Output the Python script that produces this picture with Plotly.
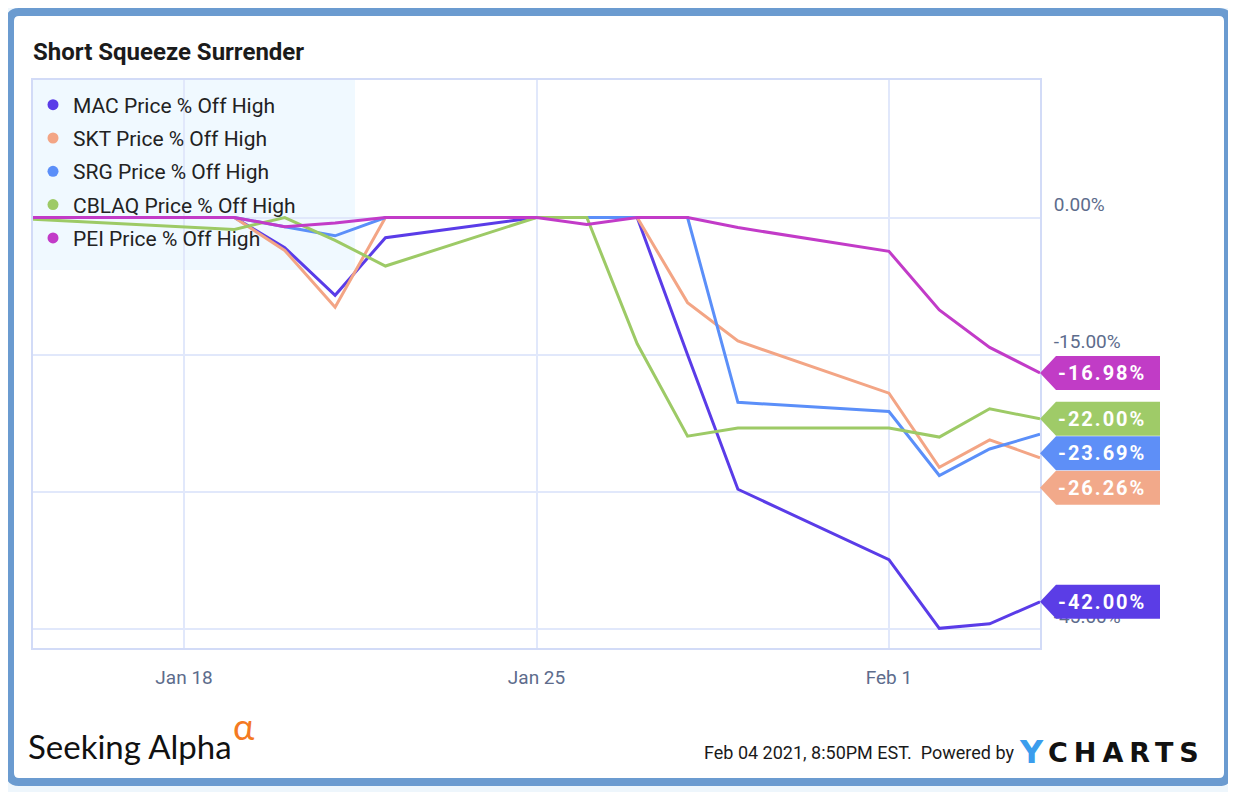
import plotly.graph_objects as go

# ---------------- data ----------------
dates = ["2021-01-15", "2021-01-19", "2021-01-20", "2021-01-21", "2021-01-22",
         "2021-01-25", "2021-01-26", "2021-01-27", "2021-01-28", "2021-01-29",
         "2021-02-01", "2021-02-02", "2021-02-03", "2021-02-04"]

series_names = ["MAC", "SKT", "SRG", "CBLAQ", "PEI"]
mac = [0, 0, -3.3, -8.5, -2.2, 0, 0, 0, -15.0, -29.7, -37.4, -44.9, -44.4, -42.00]
skt = [0, 0, -3.6, -9.8, 0, 0, 0, 0, -9.3, -13.5, -19.2, -27.3, -24.3, -26.26]
srg = [0, 0, -1.0, -2.0, 0, 0, 0, 0, 0, -20.2, -21.2, -28.2, -25.3, -23.69]
cblaq = [-0.2, -1.3, 0, -2.5, -5.3, 0, 0, -13.8, -23.9, -23.0, -23.0, -24.0, -20.9, -22.00]
pei = [0, 0, -1.0, -0.6, 0, 0, -0.75, 0, 0, -1.1, -3.7, -10.1, -14.2, -16.98]
series_values = [mac, skt, srg, cblaq, pei]

y_tick_values = [0, -15, -30, -45]
x_tick_values = ["2021-01-18", "2021-01-25", "2021-02-01"]
x_tick_labels = ["Jan 18", "Jan 25", "Feb 1"]

# ---------------- styles ----------------
colors = ["#5a3ce8", "#f3a585", "#5b8ff9", "#9dca66", "#c23bc8"]
flag_colors = ["#5b3de6", "#f2a98a", "#5e8ff7", "#9fcb68", "#c13cc6"]
flag_shift_px = [0, -30, -19, 0, 0]   # vertical collision offsets of end labels
FONT = "Roboto"
W, H = 1228, 784

fig = go.Figure()

for name, vals, col in zip(series_names, series_values, colors):
    fig.add_trace(go.Scatter(x=dates, y=vals, mode="lines", name=name,
                             line=dict(color=col, width=3), showlegend=False,
                             hoverinfo="skip"))
for i, (name, col) in enumerate(zip(series_names, colors)):
    fig.add_trace(go.Scatter(x=[None], y=[None], mode="markers",
                             name=f"{name} Price % Off High", legendgroup=f"g{i}",
                             marker=dict(color=col, size=11)))

shapes = []
# outer frame
L, R, T, B, r = -23, 1195, 68, -702, 9
frame_path = (f"M {L+r},{T} L {R-r},{T} Q {R},{T} {R},{T-r} L {R},{B+r} Q {R},{B} {R-r},{B} "
              f"L {L+r},{B} Q {L},{B} {L},{B+r} L {L},{T-r} Q {L},{T} {L+r},{T} Z")
shapes.append(dict(type="path", xref="paper", yref="paper", xsizemode="pixel", ysizemode="pixel",
                   xanchor=0, yanchor=1, path=frame_path, fillcolor="white",
                   line=dict(color="#6b9bd0", width=8), layer="below"))
# legend background
shapes.append(dict(type="rect", xref="paper", yref="paper", xsizemode="pixel", ysizemode="pixel",
                   xanchor=0, yanchor=1, x0=0, x1=322, y0=0, y1=-190,
                   fillcolor="#f0f9ff", line=dict(width=0), layer="below"))

annotations = []
for name, vals, fc, off in zip(series_names, series_values, flag_colors, flag_shift_px):
    last = vals[-1]
    h = 17
    p = (f"M 0,{off} L 16,{off+h} L 120,{off+h} L 120,{off-h} L 16,{off-h} Z")
    shapes.append(dict(type="path", xref="paper", yref="y", xsizemode="pixel", ysizemode="pixel",
                       xanchor=1, yanchor=last, path=p, fillcolor=fc,
                       line=dict(width=0), layer="above"))
    annotations.append(dict(xref="paper", yref="y", x=1, y=last, xanchor="center", yanchor="middle",
                            xshift=62, yshift=off, showarrow=False,
                            text=f"<b><span style='letter-spacing:2px'>{last:.2f}%</span></b>",
                            font=dict(family=FONT, size=20, color="white")))

# footer
annotations.append(dict(xref="paper", yref="paper", x=0, y=0, xanchor="left", yanchor="middle",
                        xshift=-7, yshift=-98, showarrow=False, text="Seeking Alpha",
                        font=dict(family="Lato", size=33, color="#111111")))
annotations.append(dict(xref="paper", yref="paper", x=0, y=0, xanchor="left", yanchor="middle",
                        xshift=198, yshift=-78, showarrow=False, text="α",
                        font=dict(family="Lato", size=36, color="#f47a22")))
annotations.append(dict(xref="paper", yref="paper", x=1, y=0, xanchor="right", yanchor="middle",
                        xshift=-24, yshift=-104, showarrow=False,
                        text="Feb 04 2021, 8:50PM EST.  Powered by",
                        font=dict(family=FONT, size=18, color="#1a1a1a")))
annotations.append(dict(xref="paper", yref="paper", x=1, y=0, xanchor="left", yanchor="middle",
                        xshift=-23, yshift=-104, showarrow=False, text="<b>Y</b>",
                        font=dict(family="DejaVu Sans", size=32, color="#3b9ded")))
annotations.append(dict(xref="paper", yref="paper", x=1, y=0, xanchor="left", yanchor="middle",
                        xshift=6, yshift=-104, showarrow=False,
                        text="<b><span style='letter-spacing:6px'>CHARTS</span></b>",
                        font=dict(family="DejaVu Sans", size=27, color="#111111")))

fig.update_layout(
    width=W, height=H,
    margin=dict(l=25, r=196, t=72, b=144),
    paper_bgcolor="#eef6fc", plot_bgcolor="rgba(0,0,0,0)",
    title=dict(text="<b>Short Squeeze Surrender</b>", xref="container", yref="container",
               x=25/W, xanchor="left", y=1-44/H, yanchor="middle",
               font=dict(family=FONT, size=24, color="#1b1b1b")),
    showlegend=True,
    legend=dict(x=0, y=0.992, xanchor="left", yanchor="top", bgcolor="rgba(0,0,0,0)",
                font=dict(family=FONT, size=21, color="#222222"), tracegroupgap=3,
                itemclick=False),
    xaxis=dict(type="date", range=["2021-01-15", "2021-02-04"],
               tickvals=x_tick_values, ticktext=x_tick_labels,
               showgrid=True, gridcolor="#e1e8fb", gridwidth=1.5,
               showline=True, linecolor="#d2dbf7", linewidth=2, mirror=True,
               zeroline=False, ticks="", ticklabelstandoff=11,
               tickfont=dict(family=FONT, size=19, color="#5d6c8c")),
    yaxis=dict(side="right", range=[-47.05, 15.03],
               tickvals=y_tick_values, ticktext=[f"{v:.2f}%" for v in y_tick_values],
               showgrid=True, gridcolor="#e1e8fb", gridwidth=1.5,
               showline=True, linecolor="#d2dbf7", linewidth=2, mirror=True,
               zeroline=False, ticks="", ticklabelposition="outside top",
               ticklabelstandoff=8,
               tickfont=dict(family=FONT, size=19, color="#5d6c8c")),
    shapes=shapes, annotations=annotations,
    hovermode=False,
)

fig.write_html("out.html", config={"displayModeBar": False})
